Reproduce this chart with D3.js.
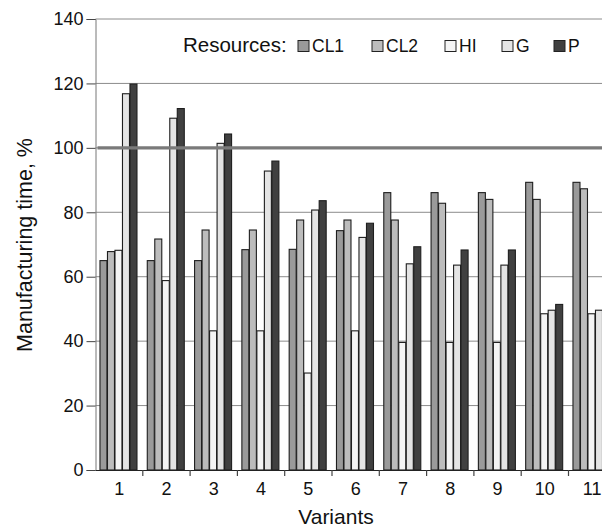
<!DOCTYPE html>
<html><head><meta charset="utf-8">
<script src="https://cdn.jsdelivr.net/npm/d3@7/dist/d3.min.js"></script>
<style>body{margin:0;background:#fff}svg{display:block;font-family:"Liberation Sans",Arial,sans-serif}</style>
</head><body><svg id="c" width="602" height="529"></svg>
<script>
const variants = ["1","2","3","4","5","6","7","8","9","10","11"];
const series = ["CL1","CL2","HI","G","P"];
const CL1 = [65, 65, 65, 68.4, 68.5, 74.3, 86.1, 86.1, 86.1, 89.3, 89.3];
const CL2 = [67.8, 71.7, 74.5, 74.5, 77.6, 77.6, 77.6, 82.8, 84.0, 84.0, 87.3];
const HI  = [68.2, 58.8, 43.2, 43.2, 30.1, 43.2, 39.6, 39.6, 39.6, 48.5, 48.5];
const G   = [116.8, 109.2, 101.4, 92.8, 80.7, 72.2, 64.0, 63.6, 63.6, 49.6, 49.6];
const P   = [119.8, 112.2, 104.3, 95.9, 83.6, 76.6, 69.3, 68.3, 68.3, 51.4, 51.4];
const yTicks = [0,20,40,60,80,100,120,140];
const refValue = 100;
const colors = {CL1:"#9a9a9a", CL2:"#bcbcbc", HI:"#f4f4f4", G:"#e4e4e4", P:"#404040"};
const values = {CL1, CL2, HI, G, P};

(function(){
const svg = d3.select("#c");
const mLeft = 95.5, mTop = 19, mBottom = 470, groupW = 47.3;
const x = d3.scaleBand().domain(variants).range([mLeft, mLeft + groupW*variants.length]).paddingInner(0).paddingOuter(0);
const bw = x.bandwidth();
const x1 = d3.scaleBand().domain(series).range([bw*0.084, bw*0.877]).padding(0);
const y = d3.scaleLinear().domain([0,140]).range([mBottom, mTop]);

// gridlines
svg.append("g").selectAll("line").data(yTicks.filter(d=>d>0)).join("line")
  .attr("x1", mLeft).attr("x2", 602).attr("y1", d=>y(d)).attr("y2", d=>y(d))
  .attr("stroke", "#8c8c8c").attr("stroke-width", 1);

// bars
const g = svg.append("g").selectAll("g").data(variants).join("g")
  .attr("transform", d=>`translate(${x(d)},0)`);
g.selectAll("rect").data((d,i)=>series.map(s=>({s, v: values[s][i]}))).join("rect")
  .attr("x", d=>x1(d.s)+0.5).attr("width", x1.bandwidth()-0.5)
  .attr("y", d=>y(d.v)).attr("height", d=>y(0)-y(d.v))
  .attr("fill", d=>colors[d.s]).attr("stroke", "#1e1e1e").attr("stroke-width", 1.1);

// reference line
svg.append("line").attr("x1", mLeft+2).attr("x2", 602).attr("y1", y(refValue)).attr("y2", y(refValue))
  .attr("stroke", "#7a7a7a").attr("stroke-width", 3.4);

// y axis
const ya = svg.append("g").attr("transform", `translate(${mLeft},0)`)
  .call(d3.axisLeft(y).tickValues(yTicks).tickSize(9).tickPadding(3));
ya.select(".domain").attr("stroke", "#777");
ya.selectAll(".tick line").attr("stroke", "#444");
ya.selectAll("text").attr("font-size", 18).attr("fill", "#111").attr("font-family", "Liberation Sans, Arial, sans-serif");

// x axis
const xa = svg.append("g").attr("transform", `translate(0,${mBottom})`)
  .call(d3.axisBottom(x).tickSize(0).tickPadding(12));
xa.select(".domain").attr("stroke", "#222").attr("stroke-width", 1.2);
xa.selectAll("text").attr("font-size", 18).attr("fill", "#111").attr("font-family", "Liberation Sans, Arial, sans-serif");
svg.append("g").selectAll("line").data(variants.slice(1)).join("line")
  .attr("x1", d=>x(d)).attr("x2", d=>x(d)).attr("y1", mBottom).attr("y2", mBottom+6)
  .attr("stroke", "#444").attr("stroke-width", 1.2);

// axis titles
svg.append("text").attr("x", 336).attr("y", 524).attr("text-anchor", "middle")
  .attr("font-size", 21).attr("fill", "#111").text("Variants");
svg.append("text").attr("transform", "translate(32,245) rotate(-90)").attr("text-anchor", "middle")
  .attr("font-size", 21.5).attr("fill", "#111").text("Manufacturing time, %");

// legend
const lg = svg.append("g");
lg.append("text").attr("x", 183).attr("y", 52).attr("font-size", 20.5).attr("fill", "#111").text("Resources:");
const legX = {CL1:298, CL2:372, HI:445, G:502, P:554};
series.forEach(s=>{
  lg.append("rect").attr("x", legX[s]).attr("y", 40.5).attr("width", 11).attr("height", 11)
    .attr("fill", colors[s]).attr("stroke", "#222").attr("stroke-width", 1);
  lg.append("text").attr("x", legX[s]+14).attr("y", 52).attr("font-size", 17.5).attr("fill", "#111").text(s);
});
})();
</script></body></html>
